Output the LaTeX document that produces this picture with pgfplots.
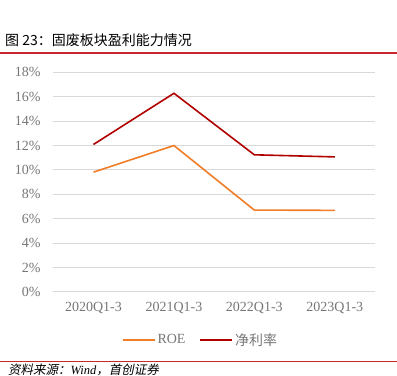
\documentclass[border=0pt]{standalone}
\usepackage{fontspec}
\setmainfont{Liberation Serif}
\newfontfamily\cjk{Noto Sans CJK SC}
\newfontfamily\cjkit[FakeSlant=0.2]{Noto Sans CJK SC}
\usepackage{pgfplots}
\pgfplotsset{compat=1.18}
\definecolor{hdrred}{RGB}{200,40,45}
\definecolor{roe}{RGB}{240,125,40}
\definecolor{npm}{RGB}{176,0,0}
\definecolor{tickgray}{RGB}{118,118,118}
\definecolor{gridgray}{RGB}{217,217,217}
\begin{document}
\begin{tikzpicture}
\useasboundingbox (0,0) rectangle (397bp,376bp);
\node[anchor=west,inner sep=0pt,font=\cjk\fontsize{14bp}{16bp}\selectfont] at (5bp,336bp) {图 23：固废板块盈利能力情况};
\draw[hdrred,line width=1.5bp] (0,323bp) -- (397bp,323bp);
\draw[hdrred,line width=1.5bp] (0,14.5bp) -- (397bp,14.5bp);
\node[anchor=base west,inner sep=0pt,font=\fontsize{12.5bp}{14bp}\selectfont] at (8bp,2bp) {{\cjkit 资料来源：}\textit{Wind}{\cjkit ，首创证券}};
\begin{axis}[
  at={(53.3bp,84bp)}, anchor=south west,
  scale only axis, width=321.7bp, height=219.7bp,
  xmin=-0.5, xmax=3.5, ymin=0, ymax=18,
  axis line style={draw=none},
  xtick={0,1,2,3},
  xticklabels={2020Q1-3,2021Q1-3,2022Q1-3,2023Q1-3},
  ytick={0,2,4,6,8,10,12,14,16,18},
  yticklabel={\pgfmathprintnumber{\tick}\%},
  ymajorgrids, major grid style={gridgray,line width=1bp},
  major tick length=0pt, tick style={draw=none},
  tick label style={font=\fontsize{14bp}{16bp}\selectfont, text=tickgray},
  /pgf/number format/assume math mode=true,
  yticklabel style={anchor=east,inner sep=0pt,xshift=-12.6bp},
  xticklabel style={anchor=north,inner sep=0pt,yshift=-10bp},
  legend style={at={(0.4576,-0.2185)},anchor=center,draw=none,fill=none,
    legend columns=2, font=\fontsize{14bp}{16bp}\selectfont, text=tickgray,
    /tikz/every even column/.append style={column sep=12bp}},
  legend image code/.code={\draw[#1] (0bp,0bp) -- (32bp,0bp);},
]
\addplot[roe, line width=1.6bp] coordinates {(0,9.82) (1,12.0) (2,6.71) (3,6.69)};
\addlegendentry{ROE}
\addplot[npm, line width=1.6bp] coordinates {(0,12.09) (1,16.28) (2,11.24) (3,11.07)};
\addlegendentry{\cjk 净利率}
\end{axis}
\end{tikzpicture}
\end{document}
